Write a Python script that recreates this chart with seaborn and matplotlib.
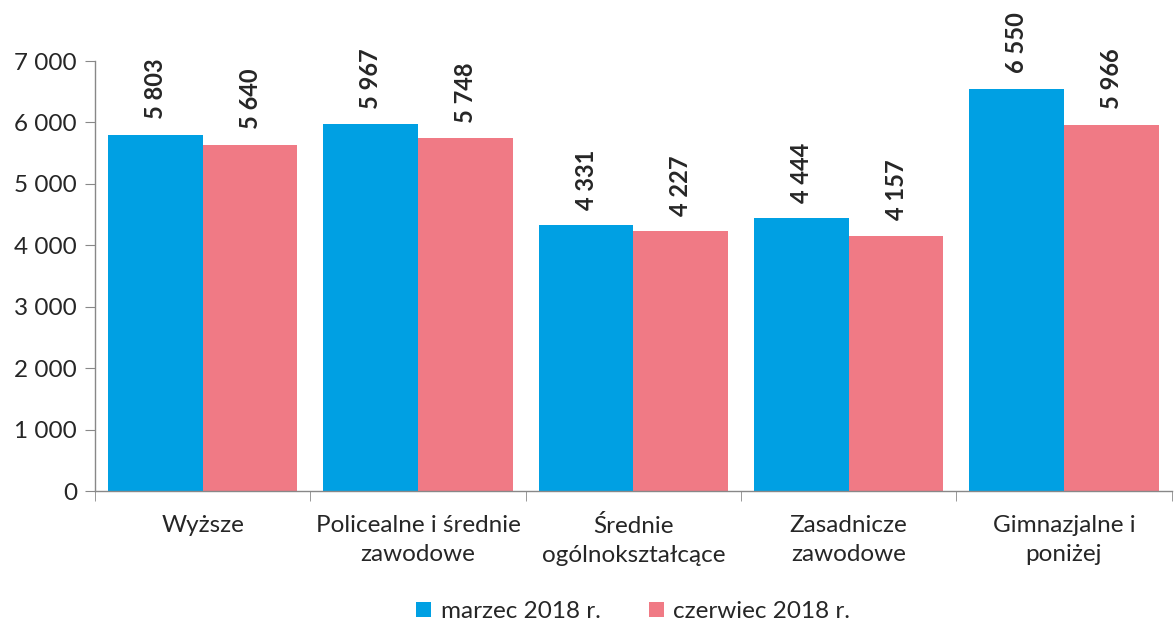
import numpy as np
import pandas as pd
import matplotlib.pyplot as plt
import seaborn as sns
from matplotlib.ticker import FuncFormatter, FixedLocator

categories = ['Wyższe', 'Policealne i średnie\nzawodowe', 'Średnie\nogólnokształcące',
              'Zasadnicze\nzawodowe', 'Gimnazjalne i\nponiżej']
marzec = [5803, 5967, 4331, 4444, 6550]
czerwiec = [5640, 5748, 4227, 4157, 5966]
series = ['marzec 2018 r.', 'czerwiec 2018 r.']
colors = ['#00A0E3', '#F07A85']

df = pd.DataFrame({
    'kat': categories * 2,
    'okres': [series[0]] * 5 + [series[1]] * 5,
    'val': marzec + czerwiec,
})

sns.set_style('white')
plt.rcParams['font.family'] = ['Lato', 'DejaVu Sans']

fig = plt.figure(figsize=(11.74, 6.25), dpi=100)
ax = fig.add_axes([0.081, 0.2144, 0.917, 0.688])
sns.barplot(data=df, x='kat', y='val', hue='okres', palette=colors, width=0.88,
            saturation=1, ax=ax, errorbar=None, linewidth=0)

def fmt(v):
    return f'{int(v):,}'.replace(',', ' ')

for cont in ax.containers:
    for bar in cont:
        h = bar.get_height()
        ax.annotate(fmt(h), (bar.get_x() + bar.get_width() / 2, h), xytext=(0, 11),
                    textcoords='offset points', rotation=90, ha='center', va='bottom',
                    fontsize=17, fontweight='bold', annotation_clip=False)

ax.set_ylim(0, 7000)
ax.set_xlim(-0.5, 4.5)
ax.set_yticks(np.arange(0, 7001, 1000))
ax.yaxis.set_major_formatter(FuncFormatter(lambda v, p: fmt(v)))
ax.xaxis.set_minor_locator(FixedLocator(np.arange(-0.5, 5, 1)))
ax.tick_params(axis='x', which='major', length=0, pad=17, labelsize=17.5)
ax.tick_params(axis='x', which='minor', length=7, color='#888888', bottom=True, direction='out')
ax.tick_params(axis='y', length=7, color='#888888', labelsize=17.5, left=True, direction='out', pad=6)
for lbl in ax.get_xticklabels():
    lbl.set_linespacing(1.5)
for s in ['top', 'right']:
    ax.spines[s].set_visible(False)
for s in ['left', 'bottom']:
    ax.spines[s].set_color('#888888')
    ax.spines[s].set_linewidth(1)
ax.set_xlabel('')
ax.set_ylabel('')

ax.legend(loc='upper center', bbox_to_anchor=(0.5, -0.205), ncol=2, frameon=False,
          fontsize=17.5, handlelength=0.6, handleheight=0.6, columnspacing=2.0, handletextpad=0.4)

fig.savefig('out.png', dpi=100)
